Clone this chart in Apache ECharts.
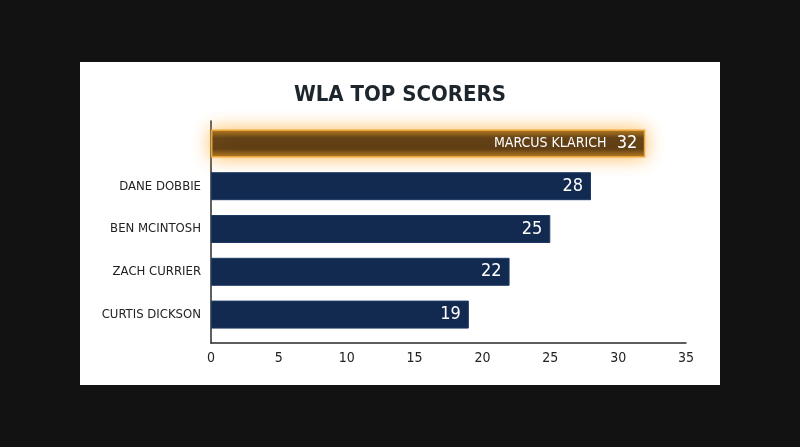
<!DOCTYPE html>
<html><head><meta charset="utf-8">
<script src="https://cdn.jsdelivr.net/npm/echarts@6/dist/echarts.min.js"></script>
<style>html,body{margin:0;padding:0;background:#121212;}#c{width:800px;height:447px;}</style>
</head><body><div id="c"></div>
<script>
const players = ['MARCUS KLARICH','DANE DOBBIE','BEN MCINTOSH','ZACH CURRIER','CURTIS DICKSON'];
const goals = [32, 28, 25, 22, 19];
const highlightIndex = 0;
const xTicks = [0, 5, 10, 15, 20, 25, 30, 35];

const FONT = '"DejaVu Sans Condensed","Liberation Sans Narrow","Roboto",sans-serif';
const chart = echarts.init(document.getElementById('c'));

const seriesData = goals.map((v, i) => {
  if (i === highlightIndex) {
    return {
      value: v,
      itemStyle: {
        color: {type:'linear', x:0, y:0, x2:0, y2:1, colorStops:[
          {offset:0, color:'#b57c22'}, {offset:0.3, color:'#5e3f16'},
          {offset:0.7, color:'#5a3a14'}, {offset:1, color:'#b57c22'}]},
        borderColor: '#eaa53a', borderWidth: 1.5,
        shadowBlur: 18, shadowColor: 'rgba(255,170,45,0.8)'
      },
      label: {
        formatter: () => '{n|' + players[i] + '}  {v|' + v + '}',
        rich: {
          n: {color:'#fff', fontSize: 14, fontFamily: FONT},
          v: {color:'#fff', fontSize: 18, fontFamily: FONT}
        }
      }
    };
  }
  return { value: v };
});

chart.setOption({
  backgroundColor: '#121212',
  graphic: [{
    type: 'rect', z: -10, silent: true,
    shape: {x: 80, y: 62, width: 640, height: 323},
    style: {fill: '#ffffff'}
  }],
  title: {
    text: 'WLA TOP SCORERS', left: 'center', top: 79,
    textStyle: {fontFamily: FONT, fontWeight: 'bold', fontSize: 22, color: '#1c262c'}
  },
  grid: [
    {left: 211, right: 114, top: 121, bottom: 104},
    {left: 211, right: 114, top: 122, bottom: 111}
  ],
  xAxis: [{
    gridIndex: 0, type: 'value', min: 0, max: 35, interval: 5,
    axisLine: {show: true, lineStyle: {color: '#2a2a2a', width: 1.5}},
    axisTick: {show: false},
    splitLine: {show: false},
    axisLabel: {color: '#222', fontSize: 14, fontFamily: FONT, margin: 8,
      formatter: v => xTicks.includes(v) ? String(v) : ''}
  }, {
    gridIndex: 1, type: 'value', min: 0, max: 35, show: false, splitLine: {show: false}
  }],
  yAxis: [{
    gridIndex: 0, type: 'value', min: 0, max: 1, show: true,
    axisLine: {show: true, lineStyle: {color: '#2a2a2a', width: 1.5}},
    axisTick: {show: false}, axisLabel: {show: false}, splitLine: {show: false}
  }, {
    gridIndex: 1, type: 'category', data: players, inverse: true,
    axisLine: {show: false},
    axisTick: {show: false},
    axisLabel: {color: '#222', fontSize: 13, fontFamily: FONT, margin: 10,
      formatter: (v, i) => i === highlightIndex ? '' : v}
  }],
  series: [{
    type: 'bar', xAxisIndex: 1, yAxisIndex: 1, data: seriesData, barWidth: 28,
    itemStyle: {color: '#122a50', borderColor: '#1d3a66', borderWidth: 1},
    label: {show: true, position: 'insideRight', distance: 8, color: '#fff',
      fontSize: 18, fontFamily: FONT}
  }]
});
</script></body></html>
